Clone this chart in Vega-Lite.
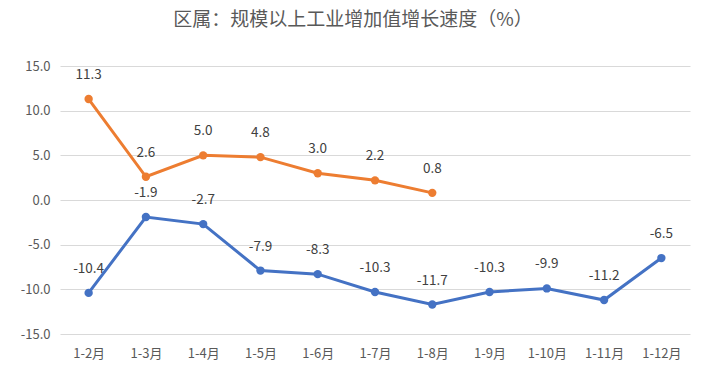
{
  "$schema": "https://vega.github.io/schema/vega-lite/v6.json",
  "autosize": {"type": "none"},
  "width": 630,
  "height": 268,
  "padding": {"left": 60, "top": 66, "right": 20, "bottom": 43},
  "background": "white",
  "title": {
    "text": "区属：规模以上工业增加值增长速度（%）",
    "font": "Noto Sans CJK SC",
    "fontSize": 19,
    "fontWeight": "normal",
    "color": "#595959",
    "anchor": "middle",
    "dx": -22,
    "offset": 30
  },
  "data": {
    "values": [
      {"month": "1-2月", "series": "上年", "value": -10.4},
      {"month": "1-3月", "series": "上年", "value": -1.9},
      {"month": "1-4月", "series": "上年", "value": -2.7},
      {"month": "1-5月", "series": "上年", "value": -7.9},
      {"month": "1-6月", "series": "上年", "value": -8.3},
      {"month": "1-7月", "series": "上年", "value": -10.3},
      {"month": "1-8月", "series": "上年", "value": -11.7},
      {"month": "1-9月", "series": "上年", "value": -10.3},
      {"month": "1-10月", "series": "上年", "value": -9.9},
      {"month": "1-11月", "series": "上年", "value": -11.2},
      {"month": "1-12月", "series": "上年", "value": -6.5},
      {"month": "1-2月", "series": "本年", "value": 11.3},
      {"month": "1-3月", "series": "本年", "value": 2.6},
      {"month": "1-4月", "series": "本年", "value": 5.0},
      {"month": "1-5月", "series": "本年", "value": 4.8},
      {"month": "1-6月", "series": "本年", "value": 3.0},
      {"month": "1-7月", "series": "本年", "value": 2.2},
      {"month": "1-8月", "series": "本年", "value": 0.8}
    ]
  },
  "encoding": {
    "x": {
      "field": "month",
      "type": "ordinal",
      "sort": ["1-2月","1-3月","1-4月","1-5月","1-6月","1-7月","1-8月","1-9月","1-10月","1-11月","1-12月"],
      "scale": {"paddingInner": 0, "paddingOuter": 0.5},
      "axis": {
        "title": null,
        "labelAngle": 0,
        "ticks": false,
        "domain": false,
        "grid": false,
        "labelPadding": 13,
        "labelFont": "Noto Sans CJK SC",
        "labelFontSize": 13,
        "labelColor": "#595959"
      }
    },
    "y": {
      "field": "value",
      "type": "quantitative",
      "scale": {"domain": [-15, 15], "nice": false, "zero": false},
      "axis": {
        "title": null,
        "values": [-15, -10, -5, 0, 5, 10, 15],
        "labelExpr": "replace(format(datum.value, '.1f'), '\u2212', '-')",
        "ticks": false,
        "domain": false,
        "gridColor": "#d9d9d9",
        "gridWidth": 1,
        "labelPadding": 10,
        "labelFont": "Noto Sans CJK SC",
        "labelFontSize": 13,
        "labelColor": "#595959"
      }
    },
    "color": {
      "field": "series",
      "type": "nominal",
      "scale": {"domain": ["上年", "本年"], "range": ["#4472C4", "#ED7D31"]},
      "legend": null
    }
  },
  "layer": [
    {"mark": {"type": "line", "strokeWidth": 3, "point": {"filled": true, "size": 70}}},
    {
      "transform": [
        {"calculate": "replace(format(datum.value, '.1f'), '\u2212', '-')", "as": "label"}
      ],
      "mark": {"type": "text", "dy": -24, "baseline": "middle", "font": "Noto Sans CJK SC", "fontSize": 13.5, "color": "#404040"},
      "encoding": {
        "text": {"field": "label", "type": "nominal"},
        "color": {"value": "#404040"}
      }
    }
  ],
  "config": {"view": {"stroke": null}}
}
